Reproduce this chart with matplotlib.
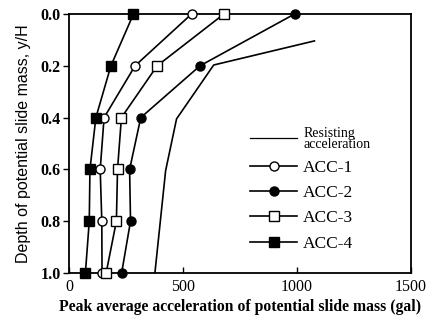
import matplotlib
matplotlib.use('Agg')
from matplotlib import pyplot as plt

depth = [0.0, 0.2, 0.4, 0.6, 0.8, 1.0]
acc1 = [538, 290, 154, 137, 144, 145]
acc2 = [990, 575, 315, 266, 270, 231]
acc3 = [680, 387, 230, 213, 208, 163]
acc4 = [283, 184, 118, 92, 89, 72]

resist_acc = [1077, 635, 472, 424, 377]
resist_depth = [0.104, 0.197, 0.405, 0.605, 1.0]

x_ticks = [0, 500, 1000, 1500]
y_ticks = [0.0, 0.2, 0.4, 0.6, 0.8, 1.0]

serif = 'Liberation Serif'
sans = 'Liberation Sans'

fig = plt.figure(figsize=(4.38, 3.25), dpi=100)
ax = fig.add_axes([0.1575, 0.16, 0.7805, 0.797])

lw = 1.2
ms = 6.5
ax.plot(resist_acc, resist_depth, '-k', lw=lw, label='Resisting\nacceleration')
ax.plot(acc1, depth, '-ko', lw=lw, ms=ms, mfc='white', mew=1.0, clip_on=False, zorder=3, label='ACC-1')
ax.plot(acc2, depth, '-ko', lw=lw, ms=ms, mfc='black', mew=1.0, clip_on=False, zorder=3, label='ACC-2')
ax.plot(acc3, depth, '-ks', lw=lw, ms=ms, mfc='white', mew=1.0, clip_on=False, zorder=3, label='ACC-3')
ax.plot(acc4, depth, '-ks', lw=lw, ms=ms, mfc='black', mew=1.0, clip_on=False, zorder=3, label='ACC-4')

ax.set_xlim(0, 1500)
ax.set_ylim(1.0, 0.0)
ax.set_xticks(x_ticks)
ax.set_yticks(y_ticks)
ax.set_xticklabels([str(v) for v in x_ticks], fontfamily=serif, fontsize=11.5)
ax.set_yticklabels([f'{v:.1f}' for v in y_ticks], fontfamily=serif, fontsize=11.5, fontweight='bold')
ax.tick_params(axis='x', direction='in', length=4, width=1.0, pad=4)
ax.tick_params(axis='y', direction='out', length=4, width=1.0, pad=2)
for s in ax.spines.values():
    s.set_linewidth(1.3)

ax.set_xlabel('Peak average acceleration of potential slide mass (gal)',
              fontfamily=serif, fontsize=11.3, fontweight='bold', labelpad=3)
ax.set_ylabel('Depth of potential slide mass, y/H',
              fontfamily=sans, fontsize=11.5, labelpad=7)

leg = ax.legend(loc='upper left', bbox_to_anchor=(0.53, 0.562), frameon=False,
                prop={'family': serif, 'size': 12.5}, handlelength=2.7,
                handletextpad=0.35, labelspacing=0.52, borderpad=0, borderaxespad=0)
leg.get_texts()[0].set_fontsize(10)
leg.get_texts()[0].set_linespacing(0.75)
leg.get_lines()[0].set_linewidth(0.9)

fig.savefig('out.png', dpi=100)
